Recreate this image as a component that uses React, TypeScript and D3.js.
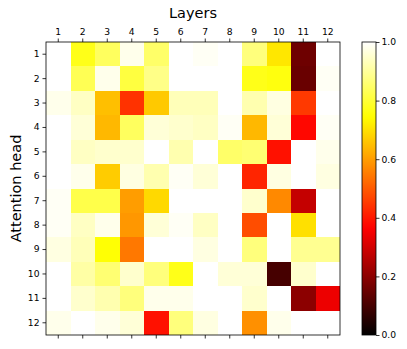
import { useEffect, useRef } from 'react';
import * as d3 from 'd3';

const layers = ['1', '2', '3', '4', '5', '6', '7', '8', '9', '10', '11', '12'];
const heads = ['1', '2', '3', '4', '5', '6', '7', '8', '9', '10', '11', '12'];

// rows = attention heads, columns = layers
const values: number[][] = [
  [1.0, 0.77, 0.84, 0.98, 0.85, 1.0, 0.99, 1.0, 0.87, 0.71, 0.157, 1.0],
  [1.0, 0.83, 0.98, 0.81, 0.88, 1.0, 1.0, 1.0, 0.77, 0.76, 0.15, 0.99],
  [0.98, 0.94, 0.65, 0.44, 0.665, 0.93, 0.93, 1.0, 0.92, 0.97, 0.45, 1.0],
  [1.0, 0.96, 0.64, 0.84, 0.96, 0.95, 0.94, 0.99, 0.64, 0.96, 0.375, 0.99],
  [1.0, 0.94, 0.95, 0.95, 1.0, 0.92, 1.0, 0.85, 0.86, 0.39, 1.0, 0.98],
  [1.0, 0.98, 0.67, 0.97, 0.92, 0.99, 0.96, 1.0, 0.42, 0.97, 1.0, 0.97],
  [0.99, 0.82, 0.82, 0.6, 0.69, 1.0, 1.0, 1.0, 0.95, 0.57, 0.28, 1.0],
  [0.99, 0.94, 0.98, 0.59, 0.96, 0.99, 0.94, 1.0, 0.48, 1.0, 0.7, 1.0],
  [0.97, 0.93, 0.75, 0.545, 1.0, 1.0, 0.97, 1.0, 0.87, 1.0, 0.89, 0.89],
  [1.0, 0.91, 0.86, 0.95, 0.87, 0.77, 1.0, 0.96, 0.96, 0.1, 0.95, 1.0],
  [1.0, 0.95, 0.92, 0.87, 0.98, 0.98, 1.0, 1.0, 0.95, 1.0, 0.2, 0.34],
  [0.98, 1.0, 0.98, 0.96, 0.39, 0.87, 0.97, 1.0, 0.58, 0.98, 1.0, 1.0],
];

const colorTicks = [0.0, 0.2, 0.4, 0.6, 0.8, 1.0];

// matplotlib "hot" colormap
const hot = (v: number) => {
  const t = Math.max(0, Math.min(1, v));
  const r = Math.min(1, t / 0.365079);
  const g = Math.max(0, Math.min(1, (t - 0.365079) / (0.746032 - 0.365079)));
  const b = Math.max(0, Math.min(1, (t - 0.746032) / (1 - 0.746032)));
  return d3.rgb(r * 255, g * 255, b * 255).toString();
};

const App = () => {
  const ref = useRef<SVGSVGElement>(null);

  useEffect(() => {
    const svg = d3.select(ref.current);
    svg.selectAll('*').remove();

    const left = 46, top = 42, right = 340, bottom = 335;
    const font = 'DejaVu Sans, sans-serif';

    const x = d3.scaleBand().domain(layers).range([left, right]);
    const y = d3.scaleBand().domain(heads).range([top, bottom]);

    const cells = values.flatMap((row, i) => row.map((v, j) => ({ head: heads[i], layer: layers[j], v })));

    svg.append('g')
      .selectAll('rect')
      .data(cells)
      .enter().append('rect')
      .attr('x', d => x(d.layer)!)
      .attr('y', d => y(d.head)!)
      .attr('width', x.bandwidth() + 0.3)
      .attr('height', y.bandwidth() + 0.3)
      .attr('fill', d => hot(d.v))
      .attr('shape-rendering', 'crispEdges');

    const styleAxis = (g: d3.Selection<SVGGElement, unknown, null, undefined>) => {
      g.select('.domain').remove();
      g.selectAll('text').attr('font-family', font).attr('font-size', 9.2).attr('fill', '#000');
      g.selectAll('line').attr('stroke', '#000').attr('stroke-width', 0.8);
    };

    svg.append('g')
      .attr('transform', `translate(0,${top})`)
      .call(d3.axisTop(x).tickSize(3.5).tickPadding(3.5))
      .call(styleAxis);

    svg.append('g')
      .attr('transform', `translate(0,${bottom})`)
      .call(d3.axisBottom(x).tickSize(3.5).tickFormat(() => ''))
      .call(styleAxis);

    svg.append('g')
      .attr('transform', `translate(${left},0)`)
      .call(d3.axisLeft(y).tickSize(3.5).tickPadding(3))
      .call(styleAxis);

    svg.append('rect')
      .attr('x', left).attr('y', top)
      .attr('width', right - left).attr('height', bottom - top)
      .attr('fill', 'none').attr('stroke', '#000').attr('stroke-width', 0.8);

    svg.append('text')
      .attr('x', (left + right) / 2).attr('y', 18)
      .attr('text-anchor', 'middle')
      .attr('font-family', font).attr('font-size', 14.5)
      .text('Layers');

    svg.append('text')
      .attr('transform', `translate(21,${(top + bottom) / 2}) rotate(-90)`)
      .attr('text-anchor', 'middle')
      .attr('font-family', font).attr('font-size', 14.5)
      .text('Attention head');

    // colorbar
    const cbX = 362, cbW = 14;
    const c = d3.scaleLinear().domain([0, 1]).range([bottom, top]);
    const defs = svg.append('defs');
    const grad = defs.append('linearGradient')
      .attr('id', 'hotgrad')
      .attr('x1', 0).attr('y1', 1).attr('x2', 0).attr('y2', 0);
    d3.range(0, 1.0001, 0.02).forEach(t => {
      grad.append('stop').attr('offset', t).attr('stop-color', hot(t));
    });
    svg.append('rect')
      .attr('x', cbX).attr('y', top)
      .attr('width', cbW).attr('height', bottom - top)
      .attr('fill', 'url(#hotgrad)')
      .attr('stroke', '#000').attr('stroke-width', 0.8);

    svg.append('g')
      .attr('transform', `translate(${cbX + cbW},0)`)
      .call(d3.axisRight(c).tickValues(colorTicks).tickFormat(d3.format('.1f')).tickSize(3.5).tickPadding(2))
      .call(styleAxis);
  }, []);

  return <svg ref={ref} width={407} height={349} style={{ position: 'absolute', left: 0, top: 0, background: '#fff' }} />;
};

export default App;
